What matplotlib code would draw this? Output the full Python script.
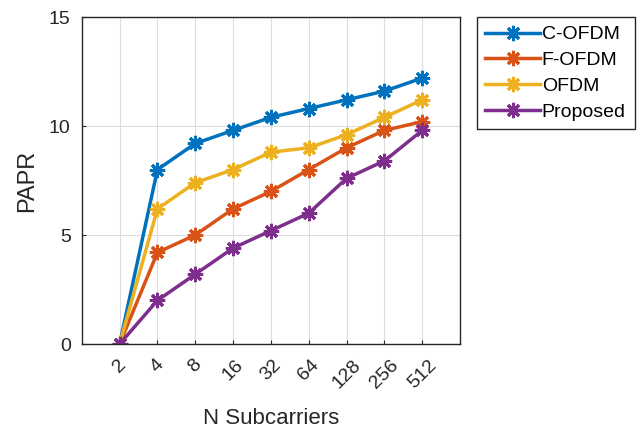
import matplotlib.pyplot as plt
import numpy as np

plt.rcParams['font.family'] = ['Liberation Sans', 'DejaVu Sans']

tick_labels = ['2', '4', '8', '16', '32', '64', '128', '256', '512']
c_ofdm = [0, 8.0, 9.2, 9.8, 10.4, 10.8, 11.2, 11.6, 12.2]
f_ofdm = [0, 4.2, 5.0, 6.2, 7.0, 8.0, 9.0, 9.8, 10.2]
ofdm = [0, 6.2, 7.4, 8.0, 8.8, 9.0, 9.6, 10.4, 11.2]
proposed = [0, 2.0, 3.2, 4.4, 5.2, 6.0, 7.6, 8.4, 9.8]

names = ['C-OFDM', 'F-OFDM', 'OFDM', 'Proposed']
colors = ['#0072BD', '#D95319', '#EDB120', '#7E2F8E']

x = np.arange(1, len(tick_labels) + 1)

fig = plt.figure(figsize=(6.39, 4.36), dpi=100)
ax = fig.add_axes([0.128, 0.211, 0.592, 0.750])

for series, name, col in zip([c_ofdm, f_ofdm, ofdm, proposed], names, colors):
    ax.plot(x, series, color=col, lw=2.5, marker=(8, 2, 0), markersize=11,
            markeredgewidth=2.2, label=name)

ax.set_xlim(0, 10)
ax.set_ylim(0, 15)
ax.set_xticks(x)
ax.set_xticklabels(tick_labels, rotation=45, ha='center')
ax.set_yticks([0, 5, 10, 15])
ax.grid(True, color='#dddddd', lw=0.8)
ax.set_axisbelow(True)
ax.tick_params(direction='in', length=3, labelsize=14, colors='#262626', width=0.8)
ax.tick_params(axis='x', pad=9)
ax.tick_params(axis='y', pad=8)
for s in ax.spines.values():
    s.set_color('#262626')
    s.set_linewidth(1.0)
ax.set_xlabel('N Subcarriers', fontsize=16, color='#262626', labelpad=12)
ax.set_ylabel('PAPR', fontsize=17, color='#262626', labelpad=8)

leg = ax.legend(loc='upper left', bbox_to_anchor=(0.746, 0.961), bbox_transform=fig.transFigure,
                borderaxespad=0, fancybox=False, edgecolor='#262626', fontsize=14,
                handlelength=2.8, handletextpad=0.1, borderpad=0.45, labelspacing=0.42, framealpha=1)
leg.get_frame().set_linewidth(1.0)

fig.savefig('out.png', dpi=100)
